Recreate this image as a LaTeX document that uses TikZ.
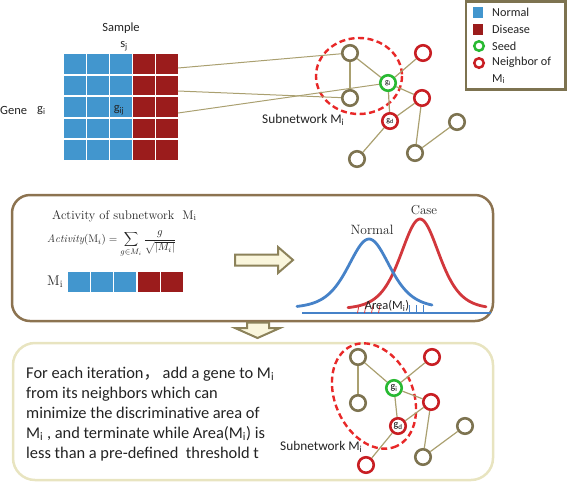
\documentclass[tikz,border=0pt]{standalone}
\usepackage{fontspec}
\newfontfamily\carl{Carlito}
\newfontfamily\cjkfont{Noto Sans CJK SC}
\usetikzlibrary{shapes.geometric}
\definecolor{cblue}{RGB}{66,150,206}
\definecolor{cred}{RGB}{155,28,28}
\definecolor{olivenode}{RGB}{125,115,80}
\definecolor{oliveline}{RGB}{170,160,112}
\definecolor{nred}{RGB}{200,30,35}
\definecolor{ngreen}{RGB}{40,185,50}
\definecolor{dashred}{RGB}{232,40,40}
\definecolor{boxbrown}{RGB}{140,115,80}
\definecolor{boxcream}{RGB}{232,228,192}
\definecolor{arrowfill}{RGB}{250,246,220}
\definecolor{arrowedge}{RGB}{140,130,90}
\definecolor{curveblue}{RGB}{70,130,200}
\definecolor{curvered}{RGB}{210,55,60}
\definecolor{txt}{RGB}{35,35,35}
\begin{document}
\begin{tikzpicture}[x=1pt,y=-1pt,
  cell/.style={minimum width=21.5pt,minimum height=19.5pt,inner sep=0pt,outer sep=0pt,anchor=north west},
  bcell/.style={cell,fill=cblue},
  rcell/.style={cell,fill=cred},
  gnode/.style={circle,draw=olivenode,line width=2.6pt,minimum size=15.5pt,inner sep=0pt,fill=white,font=\carl\fontsize{8}{9}\selectfont},
  rnode/.style={gnode,draw=nred},
  snode/.style={gnode,draw=ngreen},
  bignode/.style={font=\carl\fontsize{10}{11}\selectfont},
  edge/.style={draw=oliveline,line width=1.2pt},
  link/.style={draw=oliveline,line width=1pt},
  hull/.style={draw=dashred,line width=2.4pt,dash pattern=on 6pt off 3.5pt},
  lab/.style={font=\carl\fontsize{12.5}{14}\selectfont,text=txt,inner sep=0pt},
  leglab/.style={font=\carl\fontsize{12.2}{13}\selectfont,text=txt,inner sep=0pt,anchor=west},
  serif/.style={font=\fontsize{12.5}{14}\selectfont,text=txt,inner sep=0pt},
  blockarrow/.style={draw=arrowedge,fill=arrowfill,line width=2pt,line join=miter},
  curve/.style={line width=2.8pt,line cap=round}
]
\useasboundingbox (0,0) rectangle (567,483);

% ---------- top: expression matrix ----------
\foreach \r/\yy in {1/54,2/75.5,3/97,4/118.5,5/140}{
  \foreach \c/\xx in {1/64,2/87,3/110}{\node[bcell] (c\r\c) at (\xx,\yy) {};}
  \foreach \c/\xx in {4/133,5/156}{\node[rcell] (c\r\c) at (\xx,\yy) {};}
}
\node[lab] (sample) at (121,28) {Sample};
\node[lab] (sj) at (124,46) {s\textsubscript{j}};
\node[lab,anchor=west] (gene) at (0,110) {Gene};
\node[lab,anchor=west] (gi) at (37,111) {g\textsubscript{i}};
\node[lab] (gij) at (119,110) {g\textsubscript{ij}};

% ---------- top: subnetwork ----------
\draw[hull] (359,76) ellipse [x radius=43, y radius=38];
\node[gnode] (A) at (350,53) {};
\node[gnode] (B) at (350,98) {};
\node[snode] (S) at (388,83) {g\textsubscript{i}};
\node[rnode] (R1) at (423,53) {};
\node[rnode] (R2) at (422,98) {};
\node[rnode] (D) at (390,121) {g\textsubscript{d}};
\node[gnode] (O1) at (457,122) {};
\node[gnode] (O2) at (415,153) {};
\node[gnode] (O3) at (357,159) {};
\draw[edge] (A) -- (B);
\draw[edge] (A) -- (S);
\draw[edge] (S) -- (R1);
\draw[edge] (S) -- (R2);
\draw[edge] (S) -- (D);
\draw[edge] (D) -- (R2);
\draw[edge] (R2) -- (O2);
\draw[edge] (O2) -- (O1);
\draw[edge] (D) -- (O3);
\coordinate (m1) at (178,68);
\coordinate (m2) at (178,91);
\coordinate (m3) at (178,113);
\draw[link] (m1) -- (A);
\draw[link] (m2) -- (B);
\draw[link] (m3) -- (S);
\node[lab,anchor=west,font=\carl\fontsize{13.3}{15}\selectfont] (sub1) at (262,120) {Subnetwork M\textsubscript{i}};

% ---------- legend ----------
\draw[draw=olivenode,line width=2.8pt] (466,1.5) rectangle (565.5,89.5);
\node[fill=cblue,minimum width=10pt,minimum height=11pt,inner sep=0pt] (lb) at (478,12.5) {};
\node[fill=cred,minimum width=10pt,minimum height=11pt,inner sep=0pt] (lr) at (478,29) {};
\node[circle,draw=ngreen,line width=2.5pt,minimum size=9.5pt,inner sep=0pt] (ls) at (479,46) {};
\node[circle,draw=nred,line width=2.5pt,minimum size=9.5pt,inner sep=0pt] (ln) at (479,63) {};
\node[leglab] (t1) at (492,12.5) {Normal};
\node[leglab] (t2) at (492,29) {Disease};
\node[leglab] (t3) at (492,46) {Seed};
\node[leglab] (t4) at (492,62) {Neighbor of};
\node[leglab] (t5) at (492,79) {M\textsubscript{i}};

% ---------- middle box ----------
\draw[draw=boxbrown,line width=2.5pt,rounded corners=18pt] (12,195) rectangle (493,321);
\node[serif,anchor=base west] (title) at (52,219) {Activity of subnetwork\ \ M\textsubscript{i}};
\node[serif,font=\fontsize{11}{13}\selectfont,anchor=west] (formula) at (47,244) {$\displaystyle\mathit{Activity}(\mathrm{M}_i)=\sum_{g\in M_i}\frac{g}{\sqrt{|M_i|}}$};
\node[serif,font=\fontsize{14}{16}\selectfont,anchor=west] (mi) at (47,282) {M\textsubscript{i}};
\foreach \c/\xx in {1/68,2/91,3/114}{\node[bcell] (v\c) at (\xx,272) {};}
\foreach \c/\xx in {4/138,5/161}{\node[rcell] (v\c) at (\xx,272) {};}

\draw[blockarrow] (235,254.5) -- (278,254.5) -- (278,247) -- (293,260) -- (278,273) -- (278,265.5) -- (235,265.5) -- cycle;

% curves
\draw[curvered,curve] plot[domain=348:486,samples=90,smooth] (\x,{309-90*4/(exp((\x-420)/26)+exp(-(\x-420)/26))^2});
\draw[curveblue,curve] plot[domain=297:432,samples=90,smooth] (\x,{308-69*4/(exp((\x-369)/28)+exp(-(\x-369)/28))^2});
\draw[curveblue,line width=1.2pt] (302,313) -- (491,313);
\foreach \hx in {359,366,373,380}{\draw[curvered,line width=0.8pt] (\hx,305) -- (\hx-1.5,313);}
\foreach \hx in {409,416,423}{\draw[curveblue,line width=0.8pt] (\hx,305) -- (\hx,313);}
\node[serif,font=\fontsize{13.5}{15}\selectfont] (normal) at (372,230) {Normal};
\node[serif,font=\fontsize{13}{15}\selectfont] (case) at (424,210) {Case};
\node[lab,font=\carl\fontsize{12.5}{13}\selectfont] (area) at (387,306) {Area(M\textsubscript{i})};

% down arrow
\draw[blockarrow] (247,322.5) -- (269,322.5) -- (269,328) -- (280,328) -- (257.5,338) -- (235,328) -- (247,328) -- cycle;

% ---------- bottom box ----------
\draw[draw=boxcream,line width=2.5pt,rounded corners=22pt] (13,343) rectangle (493,480);
\node[lab,font=\carl\fontsize{16.4}{20}\selectfont,align=left,anchor=north west] (desc) at (26,366.5)
 {For each iteration{\cjkfont ，}\,add a gene to M\textsubscript{i}\\
  from its neighbors which can\\
  minimize the discriminative area of\\
  M\textsubscript{i} , and terminate while Area(M\textsubscript{i}) is\\
  less than a pre-defined\ \ threshold t};

\draw[hull,rotate around={-66:(374,396)}] (374,396) ellipse [x radius=55, y radius=39];
\node[gnode] (bA) at (358,357) {};
\node[gnode] (bB) at (358,403) {};
\node[snode,bignode] (bS) at (394,388) {g\textsubscript{i}};
\node[rnode] (bR1) at (432,357) {};
\node[rnode] (bR2) at (431,402) {};
\node[rnode,bignode] (bD) at (398,426) {g\textsubscript{d}};
\node[gnode] (bO1) at (465,426) {};
\node[gnode] (bO2) at (423,457) {};
\node[rnode] (bO3) at (366,465) {};
\draw[edge] (bA) -- (bB);
\draw[edge] (bA) -- (bS);
\draw[edge] (bS) -- (bR1);
\draw[edge] (bS) -- (bR2);
\draw[edge] (bS) -- (bD);
\draw[edge] (bD) -- (bR2);
\draw[edge] (bR2) -- (bO2);
\draw[edge] (bO2) -- (bO1);
\draw[edge] (bD) -- (bO3);
\node[lab,anchor=west,font=\carl\fontsize{13.3}{14}\selectfont] (sub2) at (280,447) {Subnetwork M\textsubscript{i}};
\end{tikzpicture}
\end{document}
